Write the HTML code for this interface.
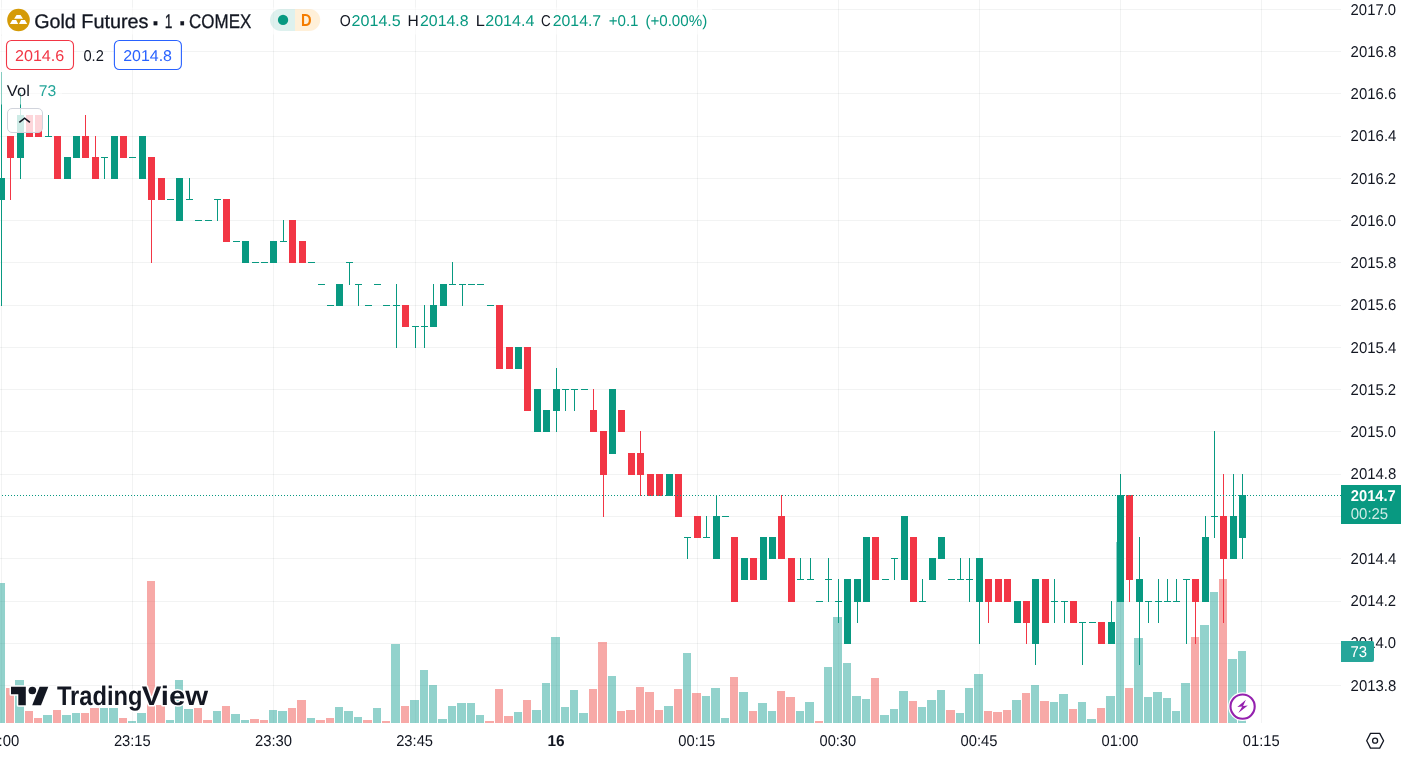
<!DOCTYPE html>
<html lang="en"><head><meta charset="utf-8"><title>Gold Futures · 1 · COMEX — TradingView</title>
<style>html,body{margin:0;padding:0;background:#fff;overflow:hidden}body{width:1401px;height:758px;position:relative;font-family:'Liberation Sans', sans-serif;color:#131722}svg{position:absolute;left:0;top:0;display:block}text{font-family:'Liberation Sans', sans-serif;white-space:pre;text-rendering:geometricPrecision}</style>
</head><body>
<svg width="1401" height="758" viewBox="0 0 1401 758">
<rect width="1401" height="758" fill="#fff"/>
<g shape-rendering="crispEdges" fill="#2a2e39" fill-opacity="0.06">
<rect x="0" y="9" width="1341" height="1"/>
<rect x="0" y="51" width="1341" height="1"/>
<rect x="0" y="93" width="1341" height="1"/>
<rect x="0" y="136" width="1341" height="1"/>
<rect x="0" y="178" width="1341" height="1"/>
<rect x="0" y="220" width="1341" height="1"/>
<rect x="0" y="262" width="1341" height="1"/>
<rect x="0" y="305" width="1341" height="1"/>
<rect x="0" y="347" width="1341" height="1"/>
<rect x="0" y="389" width="1341" height="1"/>
<rect x="0" y="431" width="1341" height="1"/>
<rect x="0" y="474" width="1341" height="1"/>
<rect x="0" y="516" width="1341" height="1"/>
<rect x="0" y="558" width="1341" height="1"/>
<rect x="0" y="601" width="1341" height="1"/>
<rect x="0" y="643" width="1341" height="1"/>
<rect x="0" y="685" width="1341" height="1"/>
<rect x="1" y="0" width="1" height="723"/>
<rect x="132" y="0" width="1" height="723"/>
<rect x="273" y="0" width="1" height="723"/>
<rect x="415" y="0" width="1" height="723"/>
<rect x="556" y="0" width="1" height="723"/>
<rect x="697" y="0" width="1" height="723"/>
<rect x="838" y="0" width="1" height="723"/>
<rect x="979" y="0" width="1" height="723"/>
<rect x="1120" y="0" width="1" height="723"/>
<rect x="1261" y="0" width="1" height="723"/>
</g>
<g shape-rendering="crispEdges">
<rect x="-4" y="583.0" width="9" height="140.0" fill="#26a69a" fill-opacity="0.5"/>
<rect x="6" y="688.4" width="8" height="34.6" fill="#ef5350" fill-opacity="0.5"/>
<rect x="15" y="680.4" width="9" height="42.6" fill="#26a69a" fill-opacity="0.5"/>
<rect x="25" y="711.4" width="8" height="11.6" fill="#ef5350" fill-opacity="0.5"/>
<rect x="34" y="718.2" width="8" height="4.8" fill="#ef5350" fill-opacity="0.5"/>
<rect x="43" y="715.4" width="9" height="7.6" fill="#26a69a" fill-opacity="0.5"/>
<rect x="53" y="710.4" width="8" height="12.6" fill="#ef5350" fill-opacity="0.5"/>
<rect x="62" y="715.4" width="9" height="7.6" fill="#26a69a" fill-opacity="0.5"/>
<rect x="72" y="713.4" width="8" height="9.6" fill="#26a69a" fill-opacity="0.5"/>
<rect x="81" y="713.4" width="8" height="9.6" fill="#ef5350" fill-opacity="0.5"/>
<rect x="90" y="708.4" width="9" height="14.6" fill="#ef5350" fill-opacity="0.5"/>
<rect x="100" y="708.4" width="8" height="14.6" fill="#26a69a" fill-opacity="0.5"/>
<rect x="109" y="708.4" width="9" height="14.6" fill="#26a69a" fill-opacity="0.5"/>
<rect x="119" y="718.2" width="8" height="4.8" fill="#ef5350" fill-opacity="0.5"/>
<rect x="128" y="721.4" width="8" height="1.6" fill="#26a69a" fill-opacity="0.5"/>
<rect x="137" y="713.0" width="9" height="10.0" fill="#26a69a" fill-opacity="0.5"/>
<rect x="147" y="581.0" width="8" height="142.0" fill="#ef5350" fill-opacity="0.5"/>
<rect x="156" y="705.0" width="9" height="18.0" fill="#ef5350" fill-opacity="0.5"/>
<rect x="166" y="720.4" width="8" height="2.6" fill="#26a69a" fill-opacity="0.5"/>
<rect x="175" y="680.4" width="8" height="42.6" fill="#26a69a" fill-opacity="0.5"/>
<rect x="184" y="709.4" width="9" height="13.6" fill="#26a69a" fill-opacity="0.5"/>
<rect x="194" y="708.4" width="8" height="14.6" fill="#ef5350" fill-opacity="0.5"/>
<rect x="203" y="720.4" width="9" height="2.6" fill="#ef5350" fill-opacity="0.5"/>
<rect x="213" y="711.4" width="8" height="11.6" fill="#26a69a" fill-opacity="0.5"/>
<rect x="222" y="706.4" width="8" height="16.6" fill="#ef5350" fill-opacity="0.5"/>
<rect x="231" y="714.4" width="9" height="8.6" fill="#26a69a" fill-opacity="0.5"/>
<rect x="241" y="720.4" width="8" height="2.6" fill="#26a69a" fill-opacity="0.5"/>
<rect x="250" y="719.4" width="9" height="3.6" fill="#ef5350" fill-opacity="0.5"/>
<rect x="260" y="720.4" width="8" height="2.6" fill="#ef5350" fill-opacity="0.5"/>
<rect x="269" y="710.4" width="8" height="12.6" fill="#26a69a" fill-opacity="0.5"/>
<rect x="278" y="711.4" width="9" height="11.6" fill="#26a69a" fill-opacity="0.5"/>
<rect x="288" y="708.4" width="8" height="14.6" fill="#ef5350" fill-opacity="0.5"/>
<rect x="297" y="700.4" width="9" height="22.6" fill="#ef5350" fill-opacity="0.5"/>
<rect x="307" y="718.4" width="8" height="4.6" fill="#26a69a" fill-opacity="0.5"/>
<rect x="316" y="720.4" width="9" height="2.6" fill="#ef5350" fill-opacity="0.5"/>
<rect x="326" y="718.4" width="8" height="4.6" fill="#ef5350" fill-opacity="0.5"/>
<rect x="335" y="707.4" width="8" height="15.6" fill="#26a69a" fill-opacity="0.5"/>
<rect x="344" y="711.4" width="9" height="11.6" fill="#26a69a" fill-opacity="0.5"/>
<rect x="354" y="717.4" width="8" height="5.6" fill="#26a69a" fill-opacity="0.5"/>
<rect x="363" y="720.4" width="9" height="2.6" fill="#ef5350" fill-opacity="0.5"/>
<rect x="373" y="708.4" width="8" height="14.6" fill="#26a69a" fill-opacity="0.5"/>
<rect x="382" y="721.4" width="8" height="1.6" fill="#ef5350" fill-opacity="0.5"/>
<rect x="391" y="644.4" width="9" height="78.6" fill="#26a69a" fill-opacity="0.5"/>
<rect x="401" y="706.4" width="8" height="16.6" fill="#ef5350" fill-opacity="0.5"/>
<rect x="410" y="700.4" width="9" height="22.6" fill="#26a69a" fill-opacity="0.5"/>
<rect x="420" y="670.4" width="8" height="52.6" fill="#26a69a" fill-opacity="0.5"/>
<rect x="429" y="685.4" width="8" height="37.6" fill="#26a69a" fill-opacity="0.5"/>
<rect x="438" y="719.4" width="9" height="3.6" fill="#26a69a" fill-opacity="0.5"/>
<rect x="448" y="706.4" width="8" height="16.6" fill="#26a69a" fill-opacity="0.5"/>
<rect x="457" y="703.4" width="9" height="19.6" fill="#26a69a" fill-opacity="0.5"/>
<rect x="467" y="703.4" width="8" height="19.6" fill="#26a69a" fill-opacity="0.5"/>
<rect x="476" y="715.4" width="8" height="7.6" fill="#26a69a" fill-opacity="0.5"/>
<rect x="485" y="721.4" width="9" height="1.6" fill="#ef5350" fill-opacity="0.5"/>
<rect x="495" y="689.4" width="8" height="33.6" fill="#ef5350" fill-opacity="0.5"/>
<rect x="504" y="716.4" width="9" height="6.6" fill="#ef5350" fill-opacity="0.5"/>
<rect x="514" y="712.4" width="8" height="10.6" fill="#26a69a" fill-opacity="0.5"/>
<rect x="523" y="700.4" width="8" height="22.6" fill="#ef5350" fill-opacity="0.5"/>
<rect x="532" y="710.4" width="9" height="12.6" fill="#26a69a" fill-opacity="0.5"/>
<rect x="542" y="683.4" width="8" height="39.6" fill="#26a69a" fill-opacity="0.5"/>
<rect x="551" y="637.4" width="9" height="85.6" fill="#26a69a" fill-opacity="0.5"/>
<rect x="561" y="707.4" width="8" height="15.6" fill="#26a69a" fill-opacity="0.5"/>
<rect x="570" y="690.4" width="8" height="32.6" fill="#26a69a" fill-opacity="0.5"/>
<rect x="579" y="713.4" width="9" height="9.6" fill="#26a69a" fill-opacity="0.5"/>
<rect x="589" y="689.4" width="8" height="33.6" fill="#ef5350" fill-opacity="0.5"/>
<rect x="598" y="642.4" width="9" height="80.6" fill="#ef5350" fill-opacity="0.5"/>
<rect x="608" y="676.4" width="8" height="46.6" fill="#26a69a" fill-opacity="0.5"/>
<rect x="617" y="711.4" width="8" height="11.6" fill="#ef5350" fill-opacity="0.5"/>
<rect x="626" y="710.4" width="9" height="12.6" fill="#ef5350" fill-opacity="0.5"/>
<rect x="636" y="687.4" width="8" height="35.6" fill="#ef5350" fill-opacity="0.5"/>
<rect x="645" y="692.4" width="9" height="30.6" fill="#ef5350" fill-opacity="0.5"/>
<rect x="655" y="710.4" width="8" height="12.6" fill="#ef5350" fill-opacity="0.5"/>
<rect x="664" y="706.4" width="9" height="16.6" fill="#26a69a" fill-opacity="0.5"/>
<rect x="674" y="689.4" width="8" height="33.6" fill="#ef5350" fill-opacity="0.5"/>
<rect x="683" y="653.4" width="8" height="69.6" fill="#26a69a" fill-opacity="0.5"/>
<rect x="692" y="693.4" width="9" height="29.6" fill="#ef5350" fill-opacity="0.5"/>
<rect x="702" y="696.4" width="8" height="26.6" fill="#26a69a" fill-opacity="0.5"/>
<rect x="711" y="688.4" width="9" height="34.6" fill="#26a69a" fill-opacity="0.5"/>
<rect x="721" y="718.4" width="8" height="4.6" fill="#26a69a" fill-opacity="0.5"/>
<rect x="730" y="677.4" width="8" height="45.6" fill="#ef5350" fill-opacity="0.5"/>
<rect x="739" y="692.4" width="9" height="30.6" fill="#26a69a" fill-opacity="0.5"/>
<rect x="749" y="711.4" width="8" height="11.6" fill="#ef5350" fill-opacity="0.5"/>
<rect x="758" y="703.4" width="9" height="19.6" fill="#26a69a" fill-opacity="0.5"/>
<rect x="768" y="711.4" width="8" height="11.6" fill="#26a69a" fill-opacity="0.5"/>
<rect x="777" y="691.4" width="8" height="31.6" fill="#ef5350" fill-opacity="0.5"/>
<rect x="786" y="697.4" width="9" height="25.6" fill="#ef5350" fill-opacity="0.5"/>
<rect x="796" y="711.4" width="8" height="11.6" fill="#26a69a" fill-opacity="0.5"/>
<rect x="805" y="702.4" width="9" height="20.6" fill="#26a69a" fill-opacity="0.5"/>
<rect x="815" y="721.4" width="8" height="1.6" fill="#ef5350" fill-opacity="0.5"/>
<rect x="824" y="667.4" width="8" height="55.6" fill="#26a69a" fill-opacity="0.5"/>
<rect x="833" y="617.4" width="9" height="105.6" fill="#26a69a" fill-opacity="0.5"/>
<rect x="843" y="663.4" width="8" height="59.6" fill="#26a69a" fill-opacity="0.5"/>
<rect x="852" y="696.4" width="9" height="26.6" fill="#26a69a" fill-opacity="0.5"/>
<rect x="862" y="699.4" width="8" height="23.6" fill="#26a69a" fill-opacity="0.5"/>
<rect x="871" y="678.4" width="8" height="44.6" fill="#ef5350" fill-opacity="0.5"/>
<rect x="880" y="715.4" width="9" height="7.6" fill="#26a69a" fill-opacity="0.5"/>
<rect x="890" y="709.4" width="8" height="13.6" fill="#26a69a" fill-opacity="0.5"/>
<rect x="899" y="691.4" width="9" height="31.6" fill="#26a69a" fill-opacity="0.5"/>
<rect x="909" y="701.4" width="8" height="21.6" fill="#ef5350" fill-opacity="0.5"/>
<rect x="918" y="707.4" width="8" height="15.6" fill="#26a69a" fill-opacity="0.5"/>
<rect x="927" y="700.4" width="9" height="22.6" fill="#26a69a" fill-opacity="0.5"/>
<rect x="937" y="690.4" width="8" height="32.6" fill="#26a69a" fill-opacity="0.5"/>
<rect x="946" y="710.4" width="9" height="12.6" fill="#ef5350" fill-opacity="0.5"/>
<rect x="956" y="713.4" width="8" height="9.6" fill="#26a69a" fill-opacity="0.5"/>
<rect x="965" y="688.4" width="8" height="34.6" fill="#26a69a" fill-opacity="0.5"/>
<rect x="974" y="674.4" width="9" height="48.6" fill="#26a69a" fill-opacity="0.5"/>
<rect x="984" y="711.4" width="8" height="11.6" fill="#ef5350" fill-opacity="0.5"/>
<rect x="993" y="712.4" width="9" height="10.6" fill="#ef5350" fill-opacity="0.5"/>
<rect x="1003" y="710.4" width="8" height="12.6" fill="#ef5350" fill-opacity="0.5"/>
<rect x="1012" y="700.4" width="9" height="22.6" fill="#26a69a" fill-opacity="0.5"/>
<rect x="1022" y="693.4" width="8" height="29.6" fill="#ef5350" fill-opacity="0.5"/>
<rect x="1031" y="685.4" width="8" height="37.6" fill="#26a69a" fill-opacity="0.5"/>
<rect x="1040" y="701.4" width="9" height="21.6" fill="#ef5350" fill-opacity="0.5"/>
<rect x="1050" y="702.4" width="8" height="20.6" fill="#26a69a" fill-opacity="0.5"/>
<rect x="1059" y="694.4" width="9" height="28.6" fill="#26a69a" fill-opacity="0.5"/>
<rect x="1069" y="709.4" width="8" height="13.6" fill="#ef5350" fill-opacity="0.5"/>
<rect x="1078" y="702.4" width="8" height="20.6" fill="#26a69a" fill-opacity="0.5"/>
<rect x="1087" y="719.4" width="9" height="3.6" fill="#26a69a" fill-opacity="0.5"/>
<rect x="1097" y="708.0" width="8" height="15.0" fill="#ef5350" fill-opacity="0.5"/>
<rect x="1106" y="696.1" width="9" height="26.9" fill="#26a69a" fill-opacity="0.5"/>
<rect x="1116" y="541.6" width="8" height="181.4" fill="#26a69a" fill-opacity="0.5"/>
<rect x="1125" y="688.1" width="8" height="34.9" fill="#ef5350" fill-opacity="0.5"/>
<rect x="1134" y="638.2" width="9" height="84.8" fill="#26a69a" fill-opacity="0.5"/>
<rect x="1144" y="697.1" width="8" height="25.9" fill="#26a69a" fill-opacity="0.5"/>
<rect x="1153" y="692.2" width="9" height="30.8" fill="#26a69a" fill-opacity="0.5"/>
<rect x="1163" y="698.2" width="8" height="24.8" fill="#26a69a" fill-opacity="0.5"/>
<rect x="1172" y="711.1" width="8" height="11.9" fill="#26a69a" fill-opacity="0.5"/>
<rect x="1181" y="683.2" width="9" height="39.8" fill="#26a69a" fill-opacity="0.5"/>
<rect x="1191" y="637.4" width="8" height="85.6" fill="#ef5350" fill-opacity="0.5"/>
<rect x="1200" y="625.4" width="9" height="97.6" fill="#26a69a" fill-opacity="0.5"/>
<rect x="1210" y="592.2" width="8" height="130.8" fill="#26a69a" fill-opacity="0.5"/>
<rect x="1219" y="579.0" width="8" height="144.0" fill="#ef5350" fill-opacity="0.5"/>
<rect x="1228" y="659.4" width="9" height="63.6" fill="#26a69a" fill-opacity="0.5"/>
<rect x="1238" y="651.2" width="8" height="71.8" fill="#26a69a" fill-opacity="0.5"/>
</g>
<g shape-rendering="crispEdges">
<rect x="1" y="72" width="1" height="234" fill="#089981"/>
<rect x="-2" y="178" width="7" height="22" fill="#089981"/>
<rect x="10" y="136" width="1" height="64" fill="#f23645"/>
<rect x="7" y="136" width="7" height="22" fill="#f23645"/>
<rect x="20" y="93" width="1" height="86" fill="#089981"/>
<rect x="17" y="115" width="7" height="43" fill="#089981"/>
<rect x="29" y="115" width="1" height="22" fill="#f23645"/>
<rect x="26" y="115" width="7" height="22" fill="#f23645"/>
<rect x="38" y="115" width="1" height="22" fill="#f23645"/>
<rect x="35" y="115" width="7" height="22" fill="#f23645"/>
<rect x="48" y="115" width="1" height="22" fill="#089981"/>
<rect x="45" y="136" width="7" height="1" fill="#089981"/>
<rect x="57" y="136" width="1" height="43" fill="#f23645"/>
<rect x="54" y="136" width="7" height="43" fill="#f23645"/>
<rect x="67" y="157" width="1" height="22" fill="#089981"/>
<rect x="64" y="157" width="7" height="22" fill="#089981"/>
<rect x="76" y="136" width="1" height="22" fill="#089981"/>
<rect x="73" y="136" width="7" height="22" fill="#089981"/>
<rect x="85" y="115" width="1" height="43" fill="#f23645"/>
<rect x="82" y="136" width="7" height="22" fill="#f23645"/>
<rect x="95" y="136" width="1" height="43" fill="#f23645"/>
<rect x="92" y="157" width="7" height="22" fill="#f23645"/>
<rect x="104" y="157" width="1" height="22" fill="#089981"/>
<rect x="101" y="157" width="7" height="1" fill="#089981"/>
<rect x="114" y="136" width="1" height="43" fill="#089981"/>
<rect x="111" y="136" width="7" height="43" fill="#089981"/>
<rect x="123" y="136" width="1" height="22" fill="#f23645"/>
<rect x="120" y="136" width="7" height="22" fill="#f23645"/>
<rect x="129" y="157" width="7" height="1" fill="#089981"/>
<rect x="142" y="136" width="1" height="43" fill="#089981"/>
<rect x="139" y="136" width="7" height="43" fill="#089981"/>
<rect x="151" y="157" width="1" height="106" fill="#f23645"/>
<rect x="148" y="157" width="7" height="43" fill="#f23645"/>
<rect x="161" y="178" width="1" height="22" fill="#f23645"/>
<rect x="158" y="178" width="7" height="22" fill="#f23645"/>
<rect x="167" y="199" width="7" height="1" fill="#089981"/>
<rect x="179" y="178" width="1" height="43" fill="#089981"/>
<rect x="176" y="178" width="7" height="43" fill="#089981"/>
<rect x="189" y="178" width="1" height="22" fill="#089981"/>
<rect x="186" y="199" width="7" height="1" fill="#089981"/>
<rect x="195" y="220" width="7" height="1" fill="#089981"/>
<rect x="205" y="220" width="7" height="1" fill="#089981"/>
<rect x="217" y="199" width="1" height="22" fill="#089981"/>
<rect x="214" y="199" width="7" height="1" fill="#089981"/>
<rect x="226" y="199" width="1" height="43" fill="#f23645"/>
<rect x="223" y="199" width="7" height="43" fill="#f23645"/>
<rect x="233" y="241" width="7" height="1" fill="#089981"/>
<rect x="245" y="241" width="1" height="22" fill="#089981"/>
<rect x="242" y="241" width="7" height="22" fill="#089981"/>
<rect x="252" y="262" width="7" height="1" fill="#089981"/>
<rect x="261" y="262" width="7" height="1" fill="#089981"/>
<rect x="273" y="241" width="1" height="22" fill="#089981"/>
<rect x="270" y="241" width="7" height="22" fill="#089981"/>
<rect x="283" y="220" width="1" height="22" fill="#089981"/>
<rect x="280" y="241" width="7" height="1" fill="#089981"/>
<rect x="292" y="220" width="1" height="43" fill="#f23645"/>
<rect x="289" y="220" width="7" height="43" fill="#f23645"/>
<rect x="302" y="241" width="1" height="22" fill="#f23645"/>
<rect x="299" y="241" width="7" height="22" fill="#f23645"/>
<rect x="308" y="262" width="7" height="1" fill="#089981"/>
<rect x="318" y="284" width="7" height="1" fill="#089981"/>
<rect x="327" y="305" width="7" height="1" fill="#089981"/>
<rect x="339" y="284" width="1" height="22" fill="#089981"/>
<rect x="336" y="284" width="7" height="22" fill="#089981"/>
<rect x="349" y="262" width="1" height="23" fill="#089981"/>
<rect x="346" y="262" width="7" height="1" fill="#089981"/>
<rect x="358" y="284" width="1" height="22" fill="#089981"/>
<rect x="355" y="284" width="7" height="1" fill="#089981"/>
<rect x="365" y="305" width="7" height="1" fill="#089981"/>
<rect x="374" y="284" width="7" height="1" fill="#089981"/>
<rect x="383" y="305" width="7" height="1" fill="#089981"/>
<rect x="396" y="284" width="1" height="64" fill="#089981"/>
<rect x="393" y="305" width="7" height="1" fill="#089981"/>
<rect x="405" y="305" width="1" height="22" fill="#f23645"/>
<rect x="402" y="305" width="7" height="22" fill="#f23645"/>
<rect x="415" y="326" width="1" height="22" fill="#089981"/>
<rect x="412" y="326" width="7" height="1" fill="#089981"/>
<rect x="424" y="305" width="1" height="43" fill="#089981"/>
<rect x="421" y="326" width="7" height="1" fill="#089981"/>
<rect x="433" y="284" width="1" height="43" fill="#089981"/>
<rect x="430" y="305" width="7" height="22" fill="#089981"/>
<rect x="443" y="284" width="1" height="22" fill="#089981"/>
<rect x="440" y="284" width="7" height="22" fill="#089981"/>
<rect x="452" y="262" width="1" height="23" fill="#089981"/>
<rect x="449" y="284" width="7" height="1" fill="#089981"/>
<rect x="462" y="284" width="1" height="22" fill="#089981"/>
<rect x="459" y="284" width="7" height="1" fill="#089981"/>
<rect x="468" y="284" width="7" height="1" fill="#089981"/>
<rect x="477" y="284" width="7" height="1" fill="#089981"/>
<rect x="487" y="305" width="7" height="1" fill="#089981"/>
<rect x="499" y="305" width="1" height="64" fill="#f23645"/>
<rect x="496" y="305" width="7" height="64" fill="#f23645"/>
<rect x="509" y="347" width="1" height="22" fill="#f23645"/>
<rect x="506" y="347" width="7" height="22" fill="#f23645"/>
<rect x="518" y="347" width="1" height="22" fill="#089981"/>
<rect x="515" y="347" width="7" height="22" fill="#089981"/>
<rect x="527" y="347" width="1" height="64" fill="#f23645"/>
<rect x="524" y="347" width="7" height="64" fill="#f23645"/>
<rect x="537" y="389" width="1" height="43" fill="#089981"/>
<rect x="534" y="389" width="7" height="43" fill="#089981"/>
<rect x="546" y="410" width="1" height="22" fill="#089981"/>
<rect x="543" y="410" width="7" height="22" fill="#089981"/>
<rect x="556" y="368" width="1" height="64" fill="#089981"/>
<rect x="553" y="389" width="7" height="22" fill="#089981"/>
<rect x="565" y="389" width="1" height="22" fill="#089981"/>
<rect x="562" y="389" width="7" height="1" fill="#089981"/>
<rect x="574" y="389" width="1" height="22" fill="#089981"/>
<rect x="571" y="389" width="7" height="1" fill="#089981"/>
<rect x="581" y="389" width="7" height="1" fill="#089981"/>
<rect x="593" y="389" width="1" height="43" fill="#f23645"/>
<rect x="590" y="410" width="7" height="22" fill="#f23645"/>
<rect x="603" y="431" width="1" height="86" fill="#f23645"/>
<rect x="600" y="431" width="7" height="44" fill="#f23645"/>
<rect x="612" y="389" width="1" height="65" fill="#089981"/>
<rect x="609" y="389" width="7" height="65" fill="#089981"/>
<rect x="621" y="410" width="1" height="22" fill="#f23645"/>
<rect x="618" y="410" width="7" height="22" fill="#f23645"/>
<rect x="631" y="453" width="1" height="22" fill="#f23645"/>
<rect x="628" y="453" width="7" height="22" fill="#f23645"/>
<rect x="640" y="431" width="1" height="65" fill="#f23645"/>
<rect x="637" y="453" width="7" height="22" fill="#f23645"/>
<rect x="650" y="474" width="1" height="22" fill="#f23645"/>
<rect x="647" y="474" width="7" height="22" fill="#f23645"/>
<rect x="659" y="474" width="1" height="22" fill="#f23645"/>
<rect x="656" y="474" width="7" height="22" fill="#f23645"/>
<rect x="669" y="474" width="1" height="22" fill="#089981"/>
<rect x="666" y="474" width="7" height="22" fill="#089981"/>
<rect x="678" y="474" width="1" height="43" fill="#f23645"/>
<rect x="675" y="474" width="7" height="43" fill="#f23645"/>
<rect x="687" y="537" width="1" height="22" fill="#089981"/>
<rect x="684" y="537" width="7" height="1" fill="#089981"/>
<rect x="697" y="516" width="1" height="22" fill="#f23645"/>
<rect x="694" y="516" width="7" height="22" fill="#f23645"/>
<rect x="706" y="516" width="1" height="22" fill="#089981"/>
<rect x="703" y="537" width="7" height="1" fill="#089981"/>
<rect x="716" y="495" width="1" height="64" fill="#089981"/>
<rect x="713" y="516" width="7" height="43" fill="#089981"/>
<rect x="722" y="516" width="7" height="1" fill="#089981"/>
<rect x="734" y="537" width="1" height="65" fill="#f23645"/>
<rect x="731" y="537" width="7" height="65" fill="#f23645"/>
<rect x="744" y="558" width="1" height="22" fill="#089981"/>
<rect x="741" y="558" width="7" height="22" fill="#089981"/>
<rect x="753" y="558" width="1" height="22" fill="#f23645"/>
<rect x="750" y="558" width="7" height="22" fill="#f23645"/>
<rect x="763" y="537" width="1" height="43" fill="#089981"/>
<rect x="760" y="537" width="7" height="43" fill="#089981"/>
<rect x="772" y="537" width="1" height="22" fill="#089981"/>
<rect x="769" y="537" width="7" height="22" fill="#089981"/>
<rect x="781" y="495" width="1" height="64" fill="#f23645"/>
<rect x="778" y="516" width="7" height="43" fill="#f23645"/>
<rect x="791" y="558" width="1" height="44" fill="#f23645"/>
<rect x="788" y="558" width="7" height="44" fill="#f23645"/>
<rect x="800" y="558" width="1" height="22" fill="#089981"/>
<rect x="797" y="579" width="7" height="1" fill="#089981"/>
<rect x="810" y="558" width="1" height="22" fill="#089981"/>
<rect x="807" y="579" width="7" height="1" fill="#089981"/>
<rect x="816" y="601" width="7" height="1" fill="#089981"/>
<rect x="828" y="558" width="1" height="44" fill="#089981"/>
<rect x="825" y="579" width="7" height="1" fill="#089981"/>
<rect x="838" y="579" width="1" height="44" fill="#089981"/>
<rect x="835" y="601" width="7" height="1" fill="#089981"/>
<rect x="847" y="579" width="1" height="65" fill="#089981"/>
<rect x="844" y="579" width="7" height="65" fill="#089981"/>
<rect x="857" y="579" width="1" height="44" fill="#089981"/>
<rect x="854" y="579" width="7" height="23" fill="#089981"/>
<rect x="866" y="537" width="1" height="65" fill="#089981"/>
<rect x="863" y="537" width="7" height="65" fill="#089981"/>
<rect x="875" y="537" width="1" height="43" fill="#f23645"/>
<rect x="872" y="537" width="7" height="43" fill="#f23645"/>
<rect x="882" y="579" width="7" height="1" fill="#089981"/>
<rect x="894" y="558" width="1" height="22" fill="#089981"/>
<rect x="891" y="558" width="7" height="1" fill="#089981"/>
<rect x="904" y="516" width="1" height="64" fill="#089981"/>
<rect x="901" y="516" width="7" height="64" fill="#089981"/>
<rect x="913" y="537" width="1" height="65" fill="#f23645"/>
<rect x="910" y="537" width="7" height="65" fill="#f23645"/>
<rect x="922" y="579" width="1" height="23" fill="#089981"/>
<rect x="919" y="601" width="7" height="1" fill="#089981"/>
<rect x="932" y="558" width="1" height="22" fill="#089981"/>
<rect x="929" y="558" width="7" height="22" fill="#089981"/>
<rect x="941" y="537" width="1" height="22" fill="#089981"/>
<rect x="938" y="537" width="7" height="22" fill="#089981"/>
<rect x="948" y="579" width="7" height="1" fill="#089981"/>
<rect x="960" y="558" width="1" height="22" fill="#089981"/>
<rect x="957" y="579" width="7" height="1" fill="#089981"/>
<rect x="969" y="558" width="1" height="44" fill="#089981"/>
<rect x="966" y="579" width="7" height="1" fill="#089981"/>
<rect x="979" y="558" width="1" height="86" fill="#089981"/>
<rect x="976" y="558" width="7" height="44" fill="#089981"/>
<rect x="988" y="579" width="1" height="44" fill="#f23645"/>
<rect x="985" y="579" width="7" height="23" fill="#f23645"/>
<rect x="998" y="579" width="1" height="23" fill="#f23645"/>
<rect x="995" y="579" width="7" height="23" fill="#f23645"/>
<rect x="1007" y="579" width="1" height="23" fill="#f23645"/>
<rect x="1004" y="579" width="7" height="23" fill="#f23645"/>
<rect x="1017" y="601" width="1" height="22" fill="#089981"/>
<rect x="1014" y="601" width="7" height="22" fill="#089981"/>
<rect x="1026" y="601" width="1" height="43" fill="#f23645"/>
<rect x="1023" y="601" width="7" height="22" fill="#f23645"/>
<rect x="1035" y="579" width="1" height="86" fill="#089981"/>
<rect x="1032" y="579" width="7" height="65" fill="#089981"/>
<rect x="1045" y="579" width="1" height="44" fill="#f23645"/>
<rect x="1042" y="579" width="7" height="44" fill="#f23645"/>
<rect x="1054" y="579" width="1" height="44" fill="#089981"/>
<rect x="1051" y="601" width="7" height="1" fill="#089981"/>
<rect x="1064" y="601" width="1" height="22" fill="#089981"/>
<rect x="1061" y="601" width="7" height="1" fill="#089981"/>
<rect x="1073" y="601" width="1" height="22" fill="#f23645"/>
<rect x="1070" y="601" width="7" height="22" fill="#f23645"/>
<rect x="1082" y="622" width="1" height="43" fill="#089981"/>
<rect x="1079" y="622" width="7" height="1" fill="#089981"/>
<rect x="1089" y="622" width="7" height="1" fill="#089981"/>
<rect x="1101" y="622" width="1" height="22" fill="#f23645"/>
<rect x="1098" y="622" width="7" height="22" fill="#f23645"/>
<rect x="1111" y="601" width="1" height="43" fill="#089981"/>
<rect x="1108" y="622" width="7" height="22" fill="#089981"/>
<rect x="1120" y="474" width="1" height="128" fill="#089981"/>
<rect x="1117" y="495" width="7" height="107" fill="#089981"/>
<rect x="1129" y="495" width="1" height="107" fill="#f23645"/>
<rect x="1126" y="495" width="7" height="85" fill="#f23645"/>
<rect x="1139" y="537" width="1" height="128" fill="#089981"/>
<rect x="1136" y="579" width="7" height="23" fill="#089981"/>
<rect x="1148" y="601" width="1" height="22" fill="#089981"/>
<rect x="1145" y="601" width="7" height="1" fill="#089981"/>
<rect x="1158" y="579" width="1" height="44" fill="#089981"/>
<rect x="1155" y="601" width="7" height="1" fill="#089981"/>
<rect x="1167" y="579" width="1" height="23" fill="#089981"/>
<rect x="1164" y="601" width="7" height="1" fill="#089981"/>
<rect x="1176" y="579" width="1" height="23" fill="#089981"/>
<rect x="1173" y="601" width="7" height="1" fill="#089981"/>
<rect x="1186" y="579" width="1" height="65" fill="#089981"/>
<rect x="1183" y="579" width="7" height="1" fill="#089981"/>
<rect x="1195" y="579" width="1" height="65" fill="#f23645"/>
<rect x="1192" y="579" width="7" height="23" fill="#f23645"/>
<rect x="1205" y="516" width="1" height="86" fill="#089981"/>
<rect x="1202" y="537" width="7" height="65" fill="#089981"/>
<rect x="1214" y="431" width="1" height="107" fill="#089981"/>
<rect x="1211" y="516" width="7" height="1" fill="#089981"/>
<rect x="1223" y="474" width="1" height="149" fill="#f23645"/>
<rect x="1220" y="516" width="7" height="43" fill="#f23645"/>
<rect x="1233" y="474" width="1" height="85" fill="#089981"/>
<rect x="1230" y="516" width="7" height="43" fill="#089981"/>
<rect x="1242" y="474" width="1" height="85" fill="#089981"/>
<rect x="1239" y="495" width="7" height="43" fill="#089981"/>
</g>
<g shape-rendering="crispEdges" fill="#089981">
<path d="M2 495.5H1341" stroke="#089981" stroke-width="1" stroke-dasharray="1 2" fill="none"/>
</g>
<rect x="0" y="36" width="62" height="68.5" fill="#fff" fill-opacity="0.5"/>
<rect x="0" y="7.5" width="712" height="27" fill="#fff" fill-opacity="0.6"/>
<text x="1350.62" y="15.00" font-size="15.6" fill="#131722" textLength="45.44" lengthAdjust="spacingAndGlyphs">2017.0</text>
<text x="1350.62" y="57.00" font-size="15.6" fill="#131722" textLength="45.68" lengthAdjust="spacingAndGlyphs">2016.8</text>
<text x="1350.62" y="99.00" font-size="15.6" fill="#131722" textLength="45.56" lengthAdjust="spacingAndGlyphs">2016.6</text>
<text x="1350.62" y="141.00" font-size="15.6" fill="#131722" textLength="45.84" lengthAdjust="spacingAndGlyphs">2016.4</text>
<text x="1350.62" y="184.00" font-size="15.6" fill="#131722" textLength="45.54" lengthAdjust="spacingAndGlyphs">2016.2</text>
<text x="1350.62" y="226.00" font-size="15.6" fill="#131722" textLength="45.44" lengthAdjust="spacingAndGlyphs">2016.0</text>
<text x="1350.62" y="268.00" font-size="15.6" fill="#131722" textLength="45.68" lengthAdjust="spacingAndGlyphs">2015.8</text>
<text x="1350.62" y="310.00" font-size="15.6" fill="#131722" textLength="45.56" lengthAdjust="spacingAndGlyphs">2015.6</text>
<text x="1350.62" y="353.00" font-size="15.6" fill="#131722" textLength="45.84" lengthAdjust="spacingAndGlyphs">2015.4</text>
<text x="1350.62" y="395.00" font-size="15.6" fill="#131722" textLength="45.54" lengthAdjust="spacingAndGlyphs">2015.2</text>
<text x="1350.62" y="437.00" font-size="15.6" fill="#131722" textLength="45.44" lengthAdjust="spacingAndGlyphs">2015.0</text>
<text x="1350.62" y="479.00" font-size="15.6" fill="#131722" textLength="45.68" lengthAdjust="spacingAndGlyphs">2014.8</text>
<text x="1350.62" y="564.00" font-size="15.6" fill="#131722" textLength="45.84" lengthAdjust="spacingAndGlyphs">2014.4</text>
<text x="1350.62" y="606.00" font-size="15.6" fill="#131722" textLength="45.54" lengthAdjust="spacingAndGlyphs">2014.2</text>
<text x="1350.62" y="648.00" font-size="15.6" fill="#131722" textLength="45.44" lengthAdjust="spacingAndGlyphs">2014.0</text>
<text x="1350.62" y="691.00" font-size="15.6" fill="#131722" textLength="45.68" lengthAdjust="spacingAndGlyphs">2013.8</text>
<text x="-17.90" y="746.00" font-size="15.6" fill="#131722" textLength="37.15" lengthAdjust="spacingAndGlyphs">23:00</text>
<text x="113.89" y="746.00" font-size="15.6" fill="#131722" textLength="36.88" lengthAdjust="spacingAndGlyphs">23:15</text>
<text x="254.89" y="746.00" font-size="15.6" fill="#131722" textLength="37.14" lengthAdjust="spacingAndGlyphs">23:30</text>
<text x="396.13" y="746.00" font-size="15.6" fill="#131722" textLength="36.93" lengthAdjust="spacingAndGlyphs">23:45</text>
<text x="678.31" y="746.00" font-size="15.6" fill="#131722" textLength="37.01" lengthAdjust="spacingAndGlyphs">00:15</text>
<text x="819.52" y="746.00" font-size="15.6" fill="#131722" textLength="36.60" lengthAdjust="spacingAndGlyphs">00:30</text>
<text x="960.47" y="746.00" font-size="15.6" fill="#131722" textLength="36.96" lengthAdjust="spacingAndGlyphs">00:45</text>
<text x="1101.52" y="746.00" font-size="15.6" fill="#131722" textLength="36.87" lengthAdjust="spacingAndGlyphs">01:00</text>
<text x="1242.74" y="746.00" font-size="15.6" fill="#131722" textLength="36.91" lengthAdjust="spacingAndGlyphs">01:15</text>
<text x="547.42" y="746.00" font-size="15.6" font-weight="bold" fill="#131722" textLength="17.15" lengthAdjust="spacingAndGlyphs">16</text>
<rect x="1341" y="485" width="60" height="39" fill="#089981" shape-rendering="crispEdges"/>
<path d="M1341 641H1372a2 2 0 0 1 2 2V660a2 2 0 0 1 -2 2H1341Z" fill="#26a69a"/>
<g fill="none" stroke="#131722" stroke-width="1.3" stroke-linejoin="round"><path d="M1366.7 740.7L1370.5 733.4H1379.7L1383.6 740.7L1379.7 748.1H1370.5Z"/><circle cx="1375.1" cy="740.7" r="2.5"/></g>
<circle cx="18.5" cy="20" r="11.3" fill="#d59b07"/>
<g fill="#fff"><path d="M16.56 15.05H20.55L23 18.86H14.16Z"/><path d="M12.3 20.1H16.2L18.2 24H9.9Z"/><path d="M21.07 20.1H24.87L27.2 24H18.96Z"/></g>
<path d="M281 9H295V31H281a11 11 0 0 1 0 -22Z" fill="#089981" fill-opacity="0.135"/>
<path d="M295 9H309.2a11 11 0 0 1 0 22H295Z" fill="#ff9800" fill-opacity="0.15"/>
<circle cx="283.05" cy="19.95" r="5.15" fill="#089981"/>
<rect x="6.5" y="40.5" width="67" height="29" rx="5" fill="#fff" stroke="#f23645" stroke-width="1.1"/>
<rect x="114.4" y="40.5" width="67" height="29" rx="5" fill="#fff" stroke="#2962ff" stroke-width="1.1"/>
<text font-size="19.6" fill="#131722" stroke="#131722" stroke-width="0.3"><tspan x="34.16" y="28" textLength="41.60" lengthAdjust="spacingAndGlyphs">Gold</tspan> <tspan x="81.30" y="28" textLength="67.25" lengthAdjust="spacingAndGlyphs">Futures</tspan> <tspan x="149.43" y="32.60" font-size="36">·</tspan> <tspan x="164.69" y="28" textLength="7.65" lengthAdjust="spacingAndGlyphs">1</tspan> <tspan x="176.34" y="32.60" font-size="36">·</tspan> <tspan x="189.08" y="28" textLength="62.19" lengthAdjust="spacingAndGlyphs">COMEX</tspan></text>
<text x="339.71" y="26.00" font-size="15.6" fill="#131722" textLength="11.02" lengthAdjust="spacingAndGlyphs">O</text>
<text x="351.58" y="26.00" font-size="15.6" fill="#089981" textLength="49.20" lengthAdjust="spacingAndGlyphs">2014.5</text>
<text x="407.42" y="26.00" font-size="15.6" fill="#131722" textLength="11.27" lengthAdjust="spacingAndGlyphs">H</text>
<text x="419.98" y="26.00" font-size="15.6" fill="#089981" textLength="48.58" lengthAdjust="spacingAndGlyphs">2014.8</text>
<text x="475.77" y="26.00" font-size="15.6" fill="#131722" textLength="9.10" lengthAdjust="spacingAndGlyphs">L</text>
<text x="485.21" y="26.00" font-size="15.6" fill="#089981" textLength="49.22" lengthAdjust="spacingAndGlyphs">2014.4</text>
<text x="540.95" y="26.00" font-size="15.6" fill="#131722" textLength="9.67" lengthAdjust="spacingAndGlyphs">C</text>
<text x="552.78" y="26.00" font-size="15.6" fill="#089981" textLength="48.36" lengthAdjust="spacingAndGlyphs">2014.7</text>
<text x="608.69" y="26.00" font-size="15.6" fill="#089981" textLength="29.85" lengthAdjust="spacingAndGlyphs">+0.1</text>
<text x="645.39" y="26.00" font-size="15.6" fill="#089981" textLength="61.83" lengthAdjust="spacingAndGlyphs">(+0.00%)</text>
<text x="14.93" y="61.00" font-size="15.6" fill="#f23645" textLength="49.40" lengthAdjust="spacingAndGlyphs">2014.6</text>
<text x="83.41" y="61.00" font-size="15.6" fill="#131722" textLength="20.39" lengthAdjust="spacingAndGlyphs">0.2</text>
<text x="123.16" y="61.00" font-size="15.6" fill="#2962ff" textLength="48.83" lengthAdjust="spacingAndGlyphs">2014.8</text>
<text x="6.87" y="96.00" font-size="15.6" fill="#131722" textLength="22.95" lengthAdjust="spacingAndGlyphs">Vol</text>
<text x="38.69" y="96.00" font-size="15.6" fill="#26a69a" textLength="17.47" lengthAdjust="spacingAndGlyphs">73</text>
<text x="1350.79" y="501.00" font-size="15.6" font-weight="bold" fill="#fff" textLength="45.00" lengthAdjust="spacingAndGlyphs">2014.7</text>
<text x="1350.78" y="519.00" font-size="15.6" fill="#fff" fill-opacity="0.8" textLength="37.40" lengthAdjust="spacingAndGlyphs">00:25</text>
<text x="1350.59" y="657.00" font-size="15.6" fill="#fff" textLength="16.58" lengthAdjust="spacingAndGlyphs">73</text>
<text x="300.92" y="26.00" font-size="17.3" font-weight="bold" fill="#f57c00" textLength="10.58" lengthAdjust="spacingAndGlyphs">D</text>
<rect x="7.5" y="108.5" width="35" height="24" rx="4.5" fill="#fff" fill-opacity="0.8" stroke="#d1d4dc" stroke-width="1"/>
<path d="M19.3 122.4L24.6 118.2L29.9 122.4" fill="none" stroke="#131722" stroke-width="1.6"/>
<circle cx="1242.6" cy="706.6" r="14.4" fill="#fff"/>
<circle cx="1242.6" cy="706.6" r="12.1" fill="#fff" stroke="#9421ae" stroke-width="2.1"/>
<path d="M1245.9 699.8L1237.3 706.95L1242.3 706.5L1238.3 713.1L1247.8 705.6L1243.1 706.05Z" fill="#9421ae"/>
<g stroke="#fff" stroke-width="3" stroke-linejoin="round" fill="#131722" paint-order="stroke">
<path d="M25.8 705.2H18.3V694.3H11V686.8H25.8Z"/>
<circle cx="32.4" cy="690.5" r="3.85"/>
<path d="M41 705.2H32.2L39.6 686.8H48.3Z"/>
<text y="705" font-size="27" font-weight="bold"><tspan x="56.95" textLength="85.65" lengthAdjust="spacingAndGlyphs">Trading</tspan><tspan x="141.65" textLength="66.47" lengthAdjust="spacingAndGlyphs">View</tspan></text>
</g>
</svg>
</body></html>
